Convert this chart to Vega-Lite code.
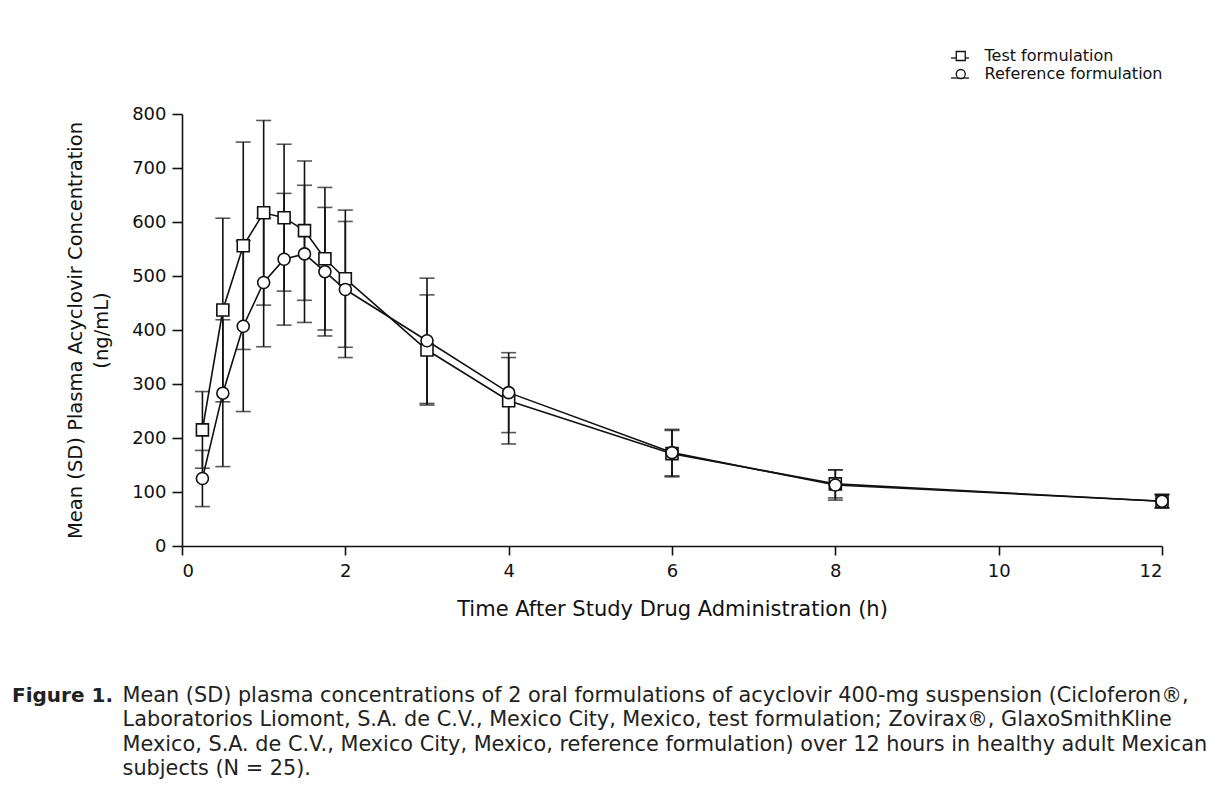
{
  "$schema": "https://vega.github.io/schema/vega-lite/v6.json",
  "autosize": {"type": "none"},
  "width": 980,
  "height": 432,
  "padding": {"left": 182, "top": 114, "right": 60, "bottom": 256},
  "background": "white",
  "config": {
    "font": "DejaVu Sans",
    "view": {"stroke": null},
    "axis": {
      "grid": false,
      "domainColor": "#111",
      "domainWidth": 1.6,
      "tickColor": "#111",
      "tickWidth": 1.6,
      "labelColor": "#111",
      "titleColor": "#111",
      "labelFont": "DejaVu Sans",
      "titleFont": "DejaVu Sans",
      "labelFontSize": 18,
      "titleFontWeight": "normal"
    }
  },
  "title": {
    "text": "Figure 1.",
    "subtitle": [
      "\u200b\u2003\u2003\u2003\u2003\u2003\u00a0Mean (SD) plasma concentrations of 2 oral formulations of acyclovir 400-mg suspension (Cicloferon®,",
      "\u200b\u2003\u2003\u2003\u2003\u2003\u00a0Laboratorios Liomont, S.A. de C.V., Mexico City, Mexico, test formulation; Zovirax®, GlaxoSmithKline",
      "\u200b\u2003\u2003\u2003\u2003\u2003\u00a0Mexico, S.A. de C.V., Mexico City, Mexico, reference formulation) over 12 hours in healthy adult Mexican",
      "\u200b\u2003\u2003\u2003\u2003\u2003\u00a0subjects (N = 25)."
    ],
    "orient": "bottom",
    "anchor": "start",
    "frame": "group",
    "dx": -170,
    "offset": 67,
    "font": "DejaVu Sans",
    "fontSize": 20,
    "fontWeight": "bold",
    "color": "#222",
    "subtitleFont": "DejaVu Sans",
    "subtitleFontSize": 20.8,
    "subtitleFontWeight": "normal",
    "subtitleColor": "#222",
    "subtitleLineHeight": 24.3,
    "subtitlePadding": -20
  },
  "data": {
    "values": [
      {"time": 0.25, "series": "Test formulation", "mean": 215, "sd": 71},
      {"time": 0.5, "series": "Test formulation", "mean": 437, "sd": 170},
      {"time": 0.75, "series": "Test formulation", "mean": 556, "sd": 192},
      {"time": 1.0, "series": "Test formulation", "mean": 617, "sd": 171},
      {"time": 1.25, "series": "Test formulation", "mean": 608, "sd": 136},
      {"time": 1.5, "series": "Test formulation", "mean": 584, "sd": 129},
      {"time": 1.75, "series": "Test formulation", "mean": 532, "sd": 132},
      {"time": 2.0, "series": "Test formulation", "mean": 495, "sd": 127},
      {"time": 3, "series": "Test formulation", "mean": 363, "sd": 102},
      {"time": 4, "series": "Test formulation", "mean": 269, "sd": 80},
      {"time": 6, "series": "Test formulation", "mean": 171, "sd": 43},
      {"time": 8, "series": "Test formulation", "mean": 115, "sd": 26},
      {"time": 12, "series": "Test formulation", "mean": 83, "sd": 13},
      {"time": 0.25, "series": "Reference formulation", "mean": 125, "sd": 52},
      {"time": 0.5, "series": "Reference formulation", "mean": 283, "sd": 136},
      {"time": 0.75, "series": "Reference formulation", "mean": 407, "sd": 158},
      {"time": 1.0, "series": "Reference formulation", "mean": 488, "sd": 119},
      {"time": 1.25, "series": "Reference formulation", "mean": 531, "sd": 122},
      {"time": 1.5, "series": "Reference formulation", "mean": 541, "sd": 127},
      {"time": 1.75, "series": "Reference formulation", "mean": 508, "sd": 119},
      {"time": 2.0, "series": "Reference formulation", "mean": 475, "sd": 126},
      {"time": 3, "series": "Reference formulation", "mean": 380, "sd": 116},
      {"time": 4, "series": "Reference formulation", "mean": 284, "sd": 74},
      {"time": 6, "series": "Reference formulation", "mean": 173, "sd": 43},
      {"time": 8, "series": "Reference formulation", "mean": 113, "sd": 28},
      {"time": 12, "series": "Reference formulation", "mean": 83, "sd": 12}
    ]
  },
  "encoding": {
    "x": {
      "field": "time",
      "type": "quantitative",
      "scale": {"domain": [0, 12], "nice": false},
      "axis": {
        "title": "Time After Study Drug Administration (h)",
        "titleFontSize": 21,
        "values": [0, 2, 4, 6, 8, 10, 12],
        "tickSize": 9,
        "labelPadding": 7,
        "titlePadding": 18
      }
    },
    "y": {
      "field": "mean",
      "type": "quantitative",
      "scale": {"domain": [0, 800], "nice": false},
      "axis": {
        "title": ["Mean (SD) Plasma Acyclovir Concentration", "(ng/mL)"],
        "titleFontSize": 19.5,
        "values": [0, 100, 200, 300, 400, 500, 600, 700, 800],
        "tickSize": 10,
        "labelPadding": 6,
        "titlePadding": 20,
        "titleLineHeight": 26
      }
    }
  },
  "layer": [
    {
      "mark": {
        "type": "errorbar",
        "color": "#111",
        "thickness": 1.6,
        "ticks": {"size": 15, "thickness": 1.6, "color": "#111"}
      },
      "encoding": {
        "y": {"field": "mean", "type": "quantitative", "title": ["Mean (SD) Plasma Acyclovir Concentration", "(ng/mL)"]},
        "yError": {"field": "sd"}
      }
    },
    {
      "mark": {"type": "line", "strokeWidth": 1.6},
      "encoding": {
        "color": {
          "field": "series",
          "type": "nominal",
          "scale": {"domain": ["Test formulation", "Reference formulation"], "range": ["#111", "#111"]},
          "legend": {
            "title": null,
            "orient": "none",
            "legendX": 768,
            "legendY": -66,
            "symbolType": "stroke",
            "symbolSize": 324,
            "symbolStrokeWidth": 1.3,
            "labelFont": "DejaVu Sans",
            "labelFontSize": 16,
            "labelExpr": "'\u200b'",
            "labelLimit": 400,
            "rowPadding": 2
          }
        }
      }
    },
    {
      "mark": {"type": "point", "filled": false, "fill": "white", "strokeWidth": 1.6, "size": 144, "opacity": 1},
      "encoding": {
        "stroke": {
          "field": "series",
          "type": "nominal",
          "scale": {"domain": ["Test formulation", "Reference formulation"], "range": ["#111", "#111"]},
          "legend": {
            "title": null,
            "orient": "none",
            "legendX": 770.75,
            "legendY": -66,
            "symbolSize": 81,
            "symbolStrokeWidth": 1.3,
            "symbolFillColor": "white",
            "labelFont": "DejaVu Sans",
            "labelFontSize": 16,
            "labelColor": "#111",
            "labelLimit": 400,
            "labelOffset": 15.75,
            "rowPadding": 2
          }
        },
        "shape": {
          "field": "series",
          "type": "nominal",
          "scale": {"domain": ["Test formulation", "Reference formulation"], "range": ["square", "circle"]},
          "legend": {
            "title": null,
            "orient": "none",
            "legendX": 770.75,
            "legendY": -66,
            "symbolSize": 81,
            "symbolStrokeWidth": 1.3,
            "symbolFillColor": "white",
            "labelFont": "DejaVu Sans",
            "labelFontSize": 16,
            "labelColor": "#111",
            "labelLimit": 400,
            "labelOffset": 15.75,
            "rowPadding": 2
          }
        }
      }
    }
  ],
  "resolve": {
    "scale": {"color": "independent", "stroke": "independent", "shape": "independent"},
    "legend": {"color": "independent", "stroke": "independent", "shape": "independent"}
  }
}
